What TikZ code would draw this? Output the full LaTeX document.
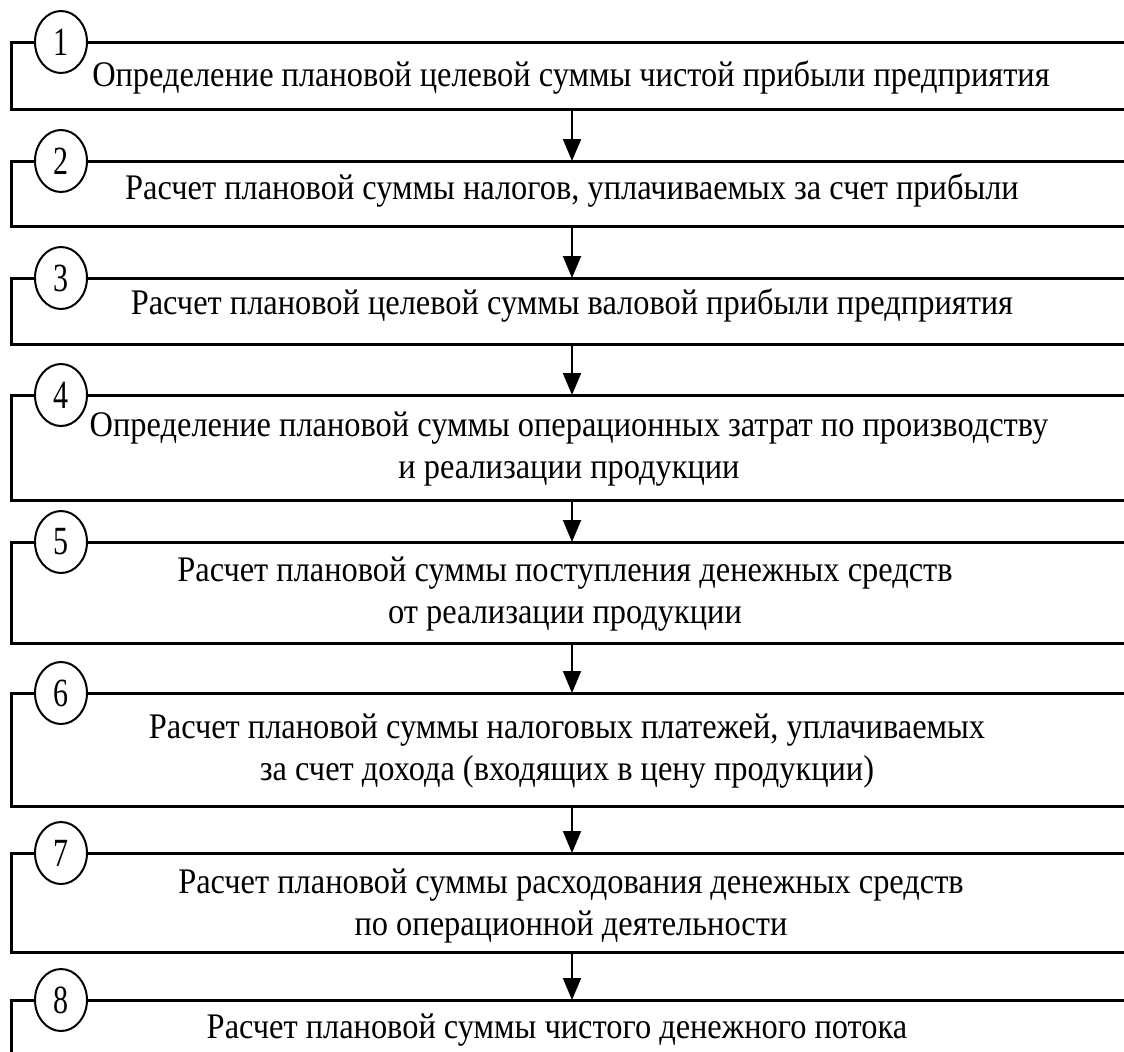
\documentclass[tikz,border=0pt]{standalone}
\usepackage{fontspec}
\setmainfont{Liberation Serif}[FakeStretch=0.9]
\newfontfamily\numfont{Liberation Serif}[FakeStretch=0.75]
\usetikzlibrary{arrows.meta,shapes.geometric}

\tikzset{every picture/.style={line width=0.75pt}}
\tikzset{
  stagebox/.style={draw, line width=2.25pt, outer sep=0pt, inner sep=0pt,
    anchor=north west, minimum width=841.5pt},
  numoval/.style={ellipse, draw, fill=white, line width=1.5pt, inner sep=0pt,
    minimum width=39pt, minimum height=46.5pt, font=\numfont\fontsize{30}{30}\selectfont},
  stagetext/.style={align=center, inner sep=0pt, font=\fontsize{27}{31}\selectfont},
  flowarrow/.style={line width=1.5pt, -{Triangle[width=13.5pt,length=16.5pt]}}
}

\begin{document}
\begin{tikzpicture}[x=0.75pt,y=0.75pt,yscale=-1,xscale=1]
\path[use as bounding box] (0,0) rectangle (1124,1051);

% Boxes
\node[stagebox, minimum height=67*0.75pt] (b1) at (11,42) {};
\node[stagebox, minimum height=65*0.75pt] (b2) at (11,161) {};
\node[stagebox, minimum height=66*0.75pt] (b3) at (11,278) {};
\node[stagebox, minimum height=105*0.75pt] (b4) at (11,395) {};
\node[stagebox, minimum height=101*0.75pt] (b5) at (11,542) {};
\node[stagebox, minimum height=113*0.75pt] (b6) at (11,693) {};
\node[stagebox, minimum height=99*0.75pt] (b7) at (11,853) {};
\node[stagebox, minimum height=90*0.75pt] (b8) at (11,1000) {};

% Arrows
\draw[flowarrow] (b1.south) -- (b2.north);
\draw[flowarrow] (b2.south) -- (b3.north);
\draw[flowarrow] (b3.south) -- (b4.north);
\draw[flowarrow] (b4.south) -- (b5.north);
\draw[flowarrow] (b5.south) -- (b6.north);
\draw[flowarrow] (b6.south) -- (b7.north);
\draw[flowarrow] (b7.south) -- (b8.north);

% Numbers
\node[numoval] (n1) at ([xshift=37.5pt]b1.north west) {1};
\node[numoval] (n2) at ([xshift=37.5pt]b2.north west) {2};
\node[numoval] (n3) at ([xshift=37.5pt]b3.north west) {3};
\node[numoval] (n4) at ([xshift=37.5pt]b4.north west) {4};
\node[numoval] (n5) at ([xshift=37.5pt]b5.north west) {5};
\node[numoval] (n6) at ([xshift=37.5pt]b6.north west) {6};
\node[numoval] (n7) at ([xshift=37.5pt]b7.north west) {7};
\node[numoval] (n8) at ([xshift=37.5pt]b8.north west) {8};

% Text Node
\node[stagetext] (t1) at (571,77) {Определение плановой целевой суммы чистой прибыли предприятия};
\node[stagetext] (t2) at (572,190) {Расчет плановой суммы налогов, уплачиваемых за счет прибыли};
\node[stagetext] (t3) at (572,305) {Расчет плановой целевой суммы валовой прибыли предприятия};
\node[stagetext] (t4) at (569,449) {Определение плановой суммы операционных затрат по производству\\и реализации продукции};
\node[stagetext] (t5) at (565,594) {Расчет плановой суммы поступления денежных средств\\от реализации продукции};
\node[stagetext] (t6) at (567,751) {Расчет плановой суммы налоговых платежей, уплачиваемых\\за счет дохода (входящих в цену продукции)};
\node[stagetext] (t7) at (571,906) {Расчет плановой суммы расходования денежных средств\\по операционной деятельности};
\node[stagetext] (t8) at (557,1030) {Расчет плановой суммы чистого денежного потока};

\end{tikzpicture}
\end{document}
